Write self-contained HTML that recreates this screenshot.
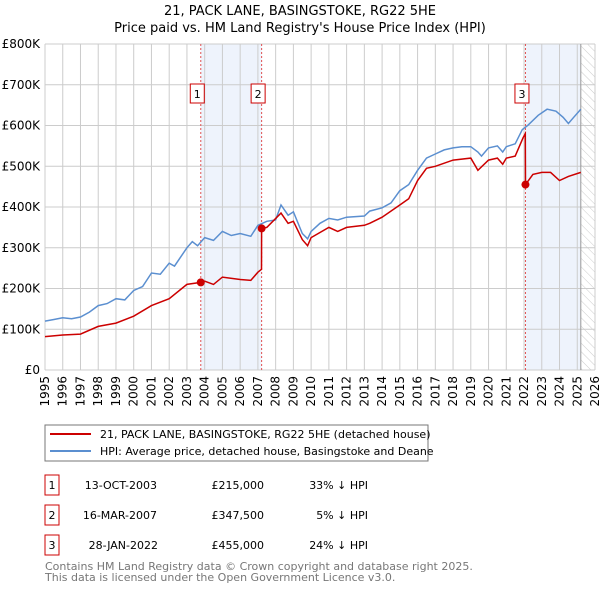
<!DOCTYPE html>
<html><head><meta charset="utf-8"><style>
body{margin:0;background:#fff;font-family:"DejaVu Sans","Liberation Sans",sans-serif;}
svg text{font-family:"DejaVu Sans","Liberation Sans",sans-serif;}
</style></head><body>
<svg id="c" width="600" height="590" xmlns="http://www.w3.org/2000/svg">
<defs><pattern id="hatch" width="6" height="6" patternUnits="userSpaceOnUse" patternTransform="rotate(-45)"><line x1="0" y1="0" x2="0" y2="6" stroke="#ccc" stroke-width="1"/></pattern></defs>
<text x="300" y="15" font-size="13" text-anchor="middle">21, PACK LANE, BASINGSTOKE, RG22 5HE</text>
<text x="300" y="32" font-size="13" text-anchor="middle">Price paid vs. HM Land Registry's House Price Index (HPI)</text>
<g id="plot"></g>
<g>
<rect x="45" y="425" width="383" height="36" fill="#fff" stroke="#777"/>
<line x1="50" y1="434" x2="91" y2="434" stroke="#cc0000" stroke-width="2"/>
<text x="100" y="438" font-size="11">21, PACK LANE, BASINGSTOKE, RG22 5HE (detached house)</text>
<line x1="50" y1="451" x2="91" y2="451" stroke="#5b8fd0" stroke-width="2"/>
<text x="100" y="455" font-size="11">HPI: Average price, detached house, Basingstoke and Deane</text>
</g>
<g font-size="11">
<rect x="45" y="475" width="14" height="20" fill="#fff" stroke="#cc0000"/><text x="52" y="489" text-anchor="middle">1</text>
<text x="157" y="489" text-anchor="end">13-OCT-2003</text><text x="264" y="489" text-anchor="end">£215,000</text><text x="368" y="489" text-anchor="end">33% ↓ HPI</text>
<rect x="45" y="505" width="14" height="20" fill="#fff" stroke="#cc0000"/><text x="52" y="519" text-anchor="middle">2</text>
<text x="157" y="519" text-anchor="end">16-MAR-2007</text><text x="264" y="519" text-anchor="end">£347,500</text><text x="368" y="519" text-anchor="end">5% ↓ HPI</text>
<rect x="45" y="535" width="14" height="20" fill="#fff" stroke="#cc0000"/><text x="52" y="549" text-anchor="middle">3</text>
<text x="158" y="549" text-anchor="end">28-JAN-2022</text><text x="264" y="549" text-anchor="end">£455,000</text><text x="368" y="549" text-anchor="end">24% ↓ HPI</text>
</g>
<text x="45" y="570" font-size="11" fill="#777">Contains HM Land Registry data © Crown copyright and database right 2025.</text>
<text x="45" y="581" font-size="11" fill="#777">This data is licensed under the Open Government Licence v3.0.</text>
</svg>
<script>
const hpiX=[1995,1995.5,1996,1996.5,1997,1997.5,1998,1998.5,1999,1999.5,2000,2000.5,2001,2001.5,2002,2002.3,2003,2003.3,2003.6,2004,2004.5,2005,2005.5,2006,2006.6,2007,2007.5,2008,2008.3,2008.7,2009,2009.5,2009.8,2010,2010.5,2011,2011.5,2012,2013,2013.3,2014,2014.5,2015,2015.5,2016,2016.5,2017,2017.5,2018,2018.5,2019,2019.4,2019.6,2020,2020.5,2020.8,2021,2021.5,2021.9,2022.2,2022.8,2023.3,2023.8,2024.2,2024.5,2024.8,2025.2];
const hpiY=[120,124,128,126,130,142,158,163,175,172,195,205,238,235,262,255,300,315,305,325,318,340,330,335,328,355,365,368,405,380,388,335,322,340,360,372,368,375,378,390,398,410,440,455,490,520,530,540,545,548,548,535,525,545,550,535,548,555,590,600,625,640,635,620,605,620,640];
const ppX=[1995,1996,1997,1998,1999,2000,2001,2002,2003,2003.78,2004,2004.5,2005,2006,2006.6,2007,2007.2,2007.21,2007.5,2008.3,2008.7,2009,2009.5,2009.8,2010,2011,2011.5,2012,2013,2013.3,2014,2015,2015.5,2016,2016.5,2017,2018,2019,2019.4,2020,2020.5,2020.8,2021,2021.5,2021.95,2022.07,2022.08,2022.5,2023,2023.5,2024,2024.5,2025.2];
const ppY=[82,86,88,107,115,132,158,175,210,215,218,210,228,222,220,240,247,347.5,350,385,360,365,320,305,325,350,340,350,355,360,375,405,420,465,495,500,515,520,490,515,520,505,520,525,570,580,455,480,485,485,465,475,485];
const saleX=[2003.78,2007.21,2022.08];
const saleY=[215,347.5,455];
const saleLabels=["1","2","3"];
const yTicks=[0,100,200,300,400,500,600,700,800];
const xTicks=[1995,1996,1997,1998,1999,2000,2001,2002,2003,2004,2005,2006,2007,2008,2009,2010,2011,2012,2013,2014,2015,2016,2017,2018,2019,2020,2021,2022,2023,2024,2025,2026];
const dataEnd=2025.2;

const NS="http://www.w3.org/2000/svg";
const X=v=>45+(v-1995)*550/31;
const Y=v=>370-v*326/800;
const g=document.getElementById('plot');
function mk(t,a,p){const e=document.createElementNS(NS,t);for(const k in a)e.setAttribute(k,a[k]);(p||g).appendChild(e);return e;}
let e;
e=mk('rect',{x:X(saleX[0]),y:Y(800),width:X(saleX[1])-X(saleX[0]),height:Y(0)-Y(800),fill:'#eef3fc'});


e=mk('rect',{x:X(saleX[2]),y:Y(800),width:X(dataEnd)-X(saleX[2]),height:Y(0)-Y(800),fill:'#eef3fc'});


e=mk('rect',{x:X(dataEnd),y:Y(800),width:X(2026)-X(dataEnd),height:Y(0)-Y(800),fill:'url(#hatch)'});


yTicks.forEach(t=>{
 e=mk('line',{x1:45,x2:595,y1:Y(t),y2:Y(t),stroke:'#ccc'});
 
 
 e=mk('text',{x:40,y:Y(t)+4,'font-size':12,'text-anchor':'end'});
 e.textContent=t===0?'£0':'£'+t+'K';
 
 
});
xTicks.forEach(t=>{
 e=mk('line',{x1:X(t),x2:X(t),y1:Y(800),y2:Y(0),stroke:'#ccc'});
 
 
 e=mk('text',{x:0,y:0,'font-size':12,'text-anchor':'end',transform:`translate(${X(t)+4},376) rotate(-90)`});
 e.textContent=t;
 
 
});
e=mk('line',{x1:X(dataEnd),x2:X(dataEnd),y1:Y(800),y2:Y(0),stroke:'#999'});


saleX.forEach((s,i)=>{
 e=mk('line',{x1:X(s),x2:X(s),y1:Y(800),y2:Y(0),stroke:'#e05050','stroke-dasharray':'2,2'});
 
 
});
e=mk('path',{d:hpiX.map((x,i)=>(i?'L':'M')+X(x).toFixed(1)+','+Y(hpiY[i]).toFixed(1)).join(''),fill:'none',stroke:'#5b8fd0','stroke-width':1.5});


e=mk('path',{d:ppX.map((x,i)=>(i?'L':'M')+X(x).toFixed(1)+','+Y(ppY[i]).toFixed(1)).join(''),fill:'none',stroke:'#cc0000','stroke-width':1.5});


saleX.forEach((s,i)=>{
 e=mk('circle',{cx:X(s),cy:Y(saleY[i]),r:4,fill:'#cc0000'});
 
 
 e=mk('rect',{x:X(s)-10.5,y:84,width:14,height:19,fill:'#fff',stroke:'#cc0000'});
 
 
 e=mk('text',{x:X(s)-3.5,y:98,'font-size':11,'text-anchor':'middle'});
 e.textContent=saleLabels[i];
 
 
});
</script>
</body></html>
